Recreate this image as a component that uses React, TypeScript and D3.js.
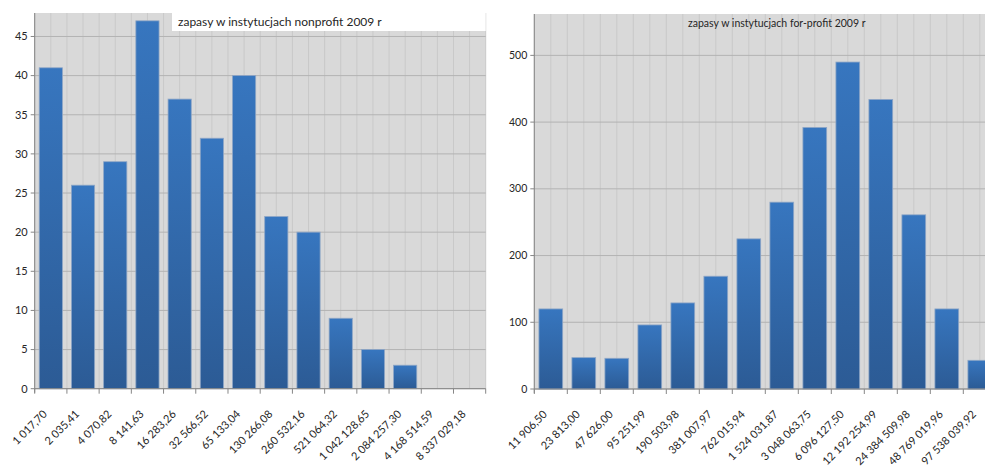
import React from "react";
import * as d3 from "d3";

// data
const nonprofitBins = [
  "1 017,70", "2 035,41", "4 070,82", "8 141,63", "16 283,26", "32 566,52",
  "65 133,04", "130 266,08", "260 532,16", "521 064,32", "1 042 128,65",
  "2 084 257,30", "4 168 514,59", "8 337 029,18",
];
const nonprofitCounts = [41, 26, 29, 47, 37, 32, 40, 22, 20, 9, 5, 3, 0, 0];
const nonprofitTicks = [0, 5, 10, 15, 20, 25, 30, 35, 40, 45];

const forprofitBins = [
  "11 906,50", "23 813,00", "47 626,00", "95 251,99", "190 503,98",
  "381 007,97", "762 015,94", "1 524 031,87", "3 048 063,75", "6 096 127,50",
  "12 192 254,99", "24 384 509,98", "48 769 019,96", "97 538 039,92",
];
const forprofitCounts = [120, 47, 46, 96, 129, 169, 225, 280, 392, 490, 434, 261, 120, 43];
const forprofitTicks = [0, 100, 200, 300, 400, 500];

const FONT = "Lato, 'Open Sans', sans-serif";

type HistProps = {
  id: string;
  bins: string[];
  counts: number[];
  ticks: number[];
  yMax: number;
  left: number;
  right: number;
  top: number;
  bottom: number;
  title: string;
  titleX: number;
  titleY: number;
  titleSize: number;
  titleBox?: [number, number];
  tickSize: number;
};

const Histogram = (p: HistProps) => {
  const x = d3
    .scaleBand<string>()
    .domain(p.bins)
    .range([p.left, p.right])
    .paddingInner(0.28)
    .paddingOuter(0.14);
  const y = d3.scaleLinear().domain([0, p.yMax]).range([p.bottom, p.top]);
  const step = x.step();
  const start = x(p.bins[0])! - step * 0.14;

  // boundaries and half-way lines, Excel style
  const halfLines = d3.range(p.bins.length * 2 + 1).map((i) => start + (i * step) / 2);
  const bounds = d3.range(p.bins.length + 1).map((i) => start + i * step);

  return (
    <g>
      <defs>
        <linearGradient id={`bar-${p.id}`} x1="0" y1="0" x2="0" y2="1">
          <stop offset="0%" stopColor="#3776bf" />
          <stop offset="100%" stopColor="#2c5b95" />
        </linearGradient>
      </defs>
      <rect x={p.left} y={p.top} width={p.right - p.left} height={p.bottom - p.top} fill="#d9d9d9" />
      {halfLines.map((gx, i) => (
        <line key={"v" + i} x1={gx} x2={gx} y1={p.top} y2={p.bottom} stroke="#c9c9c9" strokeWidth={1} />
      ))}
      {p.ticks.map((t) => (
        <line key={"h" + t} x1={p.left} x2={p.right} y1={y(t)} y2={y(t)} stroke="#b3b3b3" strokeWidth={1} />
      ))}
      {p.titleBox && (
        <rect x={p.titleBox[0]} y={p.top - 2} width={p.titleBox[1] - p.titleBox[0]} height={20} fill="#ffffff" />
      )}
      <text x={p.titleX} y={p.titleY} fontFamily={FONT} fontSize={p.titleSize} fill="#262626">
        {p.title}
      </text>
      {p.counts.map((c, i) =>
        c > 0 ? (
          <rect
            key={"b" + i}
            x={x(p.bins[i])}
            y={y(c)}
            width={x.bandwidth()}
            height={p.bottom - y(c)}
            fill={`url(#bar-${p.id})`}
            stroke="#8ea6c6"
            strokeWidth={0.8}
          />
        ) : null
      )}
      {/* axes */}
      <line x1={p.left} x2={p.left} y1={p.top} y2={p.bottom + 4} stroke="#868686" />
      <line x1={p.left} x2={p.right} y1={p.bottom} y2={p.bottom} stroke="#868686" />
      {p.ticks.map((t) => (
        <g key={"yt" + t}>
          <line x1={p.left - 4} x2={p.left} y1={y(t)} y2={y(t)} stroke="#868686" />
          <text
            x={p.left - 7}
            y={y(t)}
            dy="0.35em"
            textAnchor="end"
            fontFamily={FONT}
            fontSize={p.tickSize}
            fill="#262626"
          >
            {t}
          </text>
        </g>
      ))}
      {bounds.map((bx, i) => (
        <line key={"xt" + i} x1={bx} x2={bx} y1={p.bottom} y2={p.bottom + 5} stroke="#868686" />
      ))}
      {p.bins.map((b) => {
        const cx = x(b)! + x.bandwidth() / 2;
        const ay = p.bottom + 26;
        return (
          <text
            key={"xl" + b}
            transform={`translate(${cx - 3},${ay}) rotate(-45)`}
            textAnchor="end"
            fontFamily={FONT}
            fontSize={11}
            fill="#262626"
          >
            {b}
          </text>
        );
      })}
    </g>
  );
};

export default function App() {
  return (
    <svg
      width={985}
      height={466}
      style={{ position: "absolute", left: 0, top: 0, background: "#ffffff" }}
    >
      <rect width={985} height={466} fill="#ffffff" />
      <Histogram
        id="np"
        bins={nonprofitBins}
        counts={nonprofitCounts}
        ticks={nonprofitTicks}
        yMax={48}
        left={34.7}
        right={485.7}
        top={13}
        bottom={388.7}
        title="zapasy w instytucjach nonprofit 2009 r"
        titleX={178}
        titleY={26}
        titleSize={12}
        titleBox={[172, 485.7]}
        tickSize={11}
      />
      <Histogram
        id="fp"
        bins={forprofitBins}
        counts={forprofitCounts}
        ticks={forprofitTicks}
        yMax={562}
        left={534.3}
        right={534.3 + 33 * 14}
        top={14}
        bottom={389}
        title="zapasy w instytucjach for-profit 2009 r"
        titleX={688}
        titleY={27}
        titleSize={10.5}
        tickSize={10.5}
      />
    </svg>
  );
}
